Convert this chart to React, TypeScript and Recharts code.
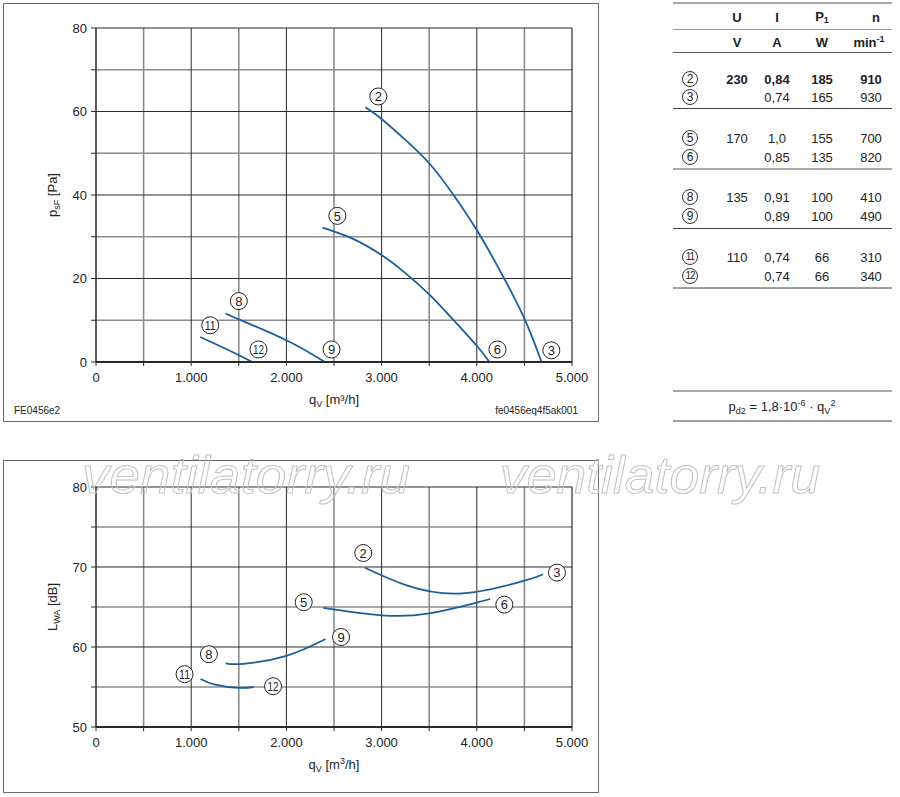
import React from 'react';
import { ComposedChart, Line, Scatter, XAxis, YAxis, ReferenceLine, Label } from 'recharts';

const FONT = '"Liberation Sans", Arial, Helvetica, sans-serif';
const CURVE = '#1b5e9b';
const DARK = '#2a2a2a';
const GRAY = '#8c8c8c';

// ---------- data: pressure chart ----------
const pressureCurve2to3 = [
  { x: 2830, y: 61.0 }, { x: 3000, y: 58.2 }, { x: 3250, y: 53.2 }, { x: 3500, y: 47.6 },
  { x: 3750, y: 40.2 }, { x: 4000, y: 31.6 }, { x: 4250, y: 21.6 }, { x: 4500, y: 10.4 }, { x: 4680, y: 0 },
];
const pressureCurve5to6 = [
  { x: 2380, y: 32.2 }, { x: 2700, y: 29.5 }, { x: 3000, y: 25.6 }, { x: 3250, y: 21.3 },
  { x: 3500, y: 16.2 }, { x: 3750, y: 10.2 }, { x: 4000, y: 3.9 }, { x: 4133, y: 0 },
];
const pressureCurve8to9 = [
  { x: 1361, y: 11.6 }, { x: 1500, y: 10.2 }, { x: 2000, y: 5.2 }, { x: 2403, y: 0 },
];
const pressureCurve11to12 = [
  { x: 1095, y: 6.0 }, { x: 1368, y: 3.1 }, { x: 1642, y: 0 },
];
const pressureMarks = [
  { x: 2965, y: 63.6, label: '2' }, { x: 4783, y: 2.8, label: '3' },
  { x: 2535, y: 35.0, label: '5' }, { x: 4217, y: 3.0, label: '6' },
  { x: 1500, y: 14.6, label: '8' }, { x: 2474, y: 3.0, label: '9' },
  { x: 1200, y: 8.8, label: '11' }, { x: 1707, y: 3.0, label: '12' },
];

// ---------- data: sound chart ----------
const soundCurve2to3 = [
  { x: 2825, y: 69.9 }, { x: 3263, y: 67.7 }, { x: 3850, y: 66.7 }, { x: 4500, y: 68.3 }, { x: 4696, y: 69.1 },
];
const soundCurve5to6 = [
  { x: 2388, y: 64.9 }, { x: 3000, y: 63.96 }, { x: 3500, y: 64.2 }, { x: 4000, y: 65.55 }, { x: 4140, y: 66.0 },
];
const soundCurve8to9 = [
  { x: 1361, y: 57.96 }, { x: 1550, y: 57.9 }, { x: 2000, y: 58.9 }, { x: 2411, y: 61.0 },
];
const soundCurve11to12 = [
  { x: 1098, y: 56.0 }, { x: 1250, y: 55.3 }, { x: 1500, y: 54.9 }, { x: 1656, y: 55.0 },
];
const soundMarks = [
  { x: 2807, y: 71.75, label: '2' }, { x: 4842, y: 69.3, label: '3' },
  { x: 2182, y: 65.6, label: '5' }, { x: 4289, y: 65.3, label: '6' },
  { x: 1186, y: 59.1, label: '8' }, { x: 2574, y: 61.25, label: '9' },
  { x: 930, y: 56.6, label: '11' }, { x: 1860, y: 55.1, label: '12' },
];

// ---------- axes ----------
const xTicks = [0, 500, 1000, 1500, 2000, 2500, 3000, 3500, 4000, 4500, 5000];
const xMajor = [1000, 2000, 3000, 4000];
const xMinor = [500, 1500, 2500, 3500, 4500];
const pressureTicks = [0, 10, 20, 30, 40, 50, 60, 70, 80];
const pressureMajor = [20, 40, 60];
const pressureMinor = [10, 30, 50, 70];
const soundTicks = [50, 55, 60, 65, 70, 75, 80];
const soundMajor = [60, 70];
const soundMinor = [55, 65, 75];

// ---------- table ----------
const tableRows = [
  { id: '2', U: '230', I: '0,84', P: '185', n: '910', bold: true, y: 79 },
  { id: '3', U: '', I: '0,74', P: '165', n: '930', bold: false, y: 97 },
  { id: '5', U: '170', I: '1,0', P: '155', n: '700', bold: false, y: 138 },
  { id: '6', U: '', I: '0,85', P: '135', n: '820', bold: false, y: 157 },
  { id: '8', U: '135', I: '0,91', P: '100', n: '410', bold: false, y: 197 },
  { id: '9', U: '', I: '0,89', P: '100', n: '490', bold: false, y: 216 },
  { id: '11', U: '110', I: '0,74', P: '66', n: '310', bold: false, y: 257 },
  { id: '12', U: '', I: '0,74', P: '66', n: '340', bold: false, y: 276 },
];
const tableLines = [
  { y: 3, color: '#a8a8a8', w: 2 },
  { y: 29, color: '#9a9a9a', w: 1 },
  { y: 52, color: '#555', w: 1 },
  { y: 108, color: '#444', w: 1 },
  { y: 169, color: '#aaaaaa', w: 2 },
  { y: 228, color: '#444', w: 1 },
  { y: 288, color: '#a0a0a0', w: 1.5 },
  { y: 391, color: '#a8a8a8', w: 1.5 },
  { y: 421, color: '#a0a0a0', w: 1.5 },
];

const fmtX = (v: number) => (v % 1000 !== 0 ? '' : v === 0 ? '0' : `${v / 1000}.000`);

const CircleMark = (props: any) => {
  const { cx, cy, payload } = props;
  if (cx == null || cy == null) return null;
  const two = String(payload.label).length > 1;
  return (
    <g>
      <circle cx={cx} cy={cy} r={8.5} fill="#fff" stroke="#222" strokeWidth={1} />
      <text
        x={cx}
        y={cy}
        dy="0.36em"
        textAnchor="middle"
        fontSize={two ? 12 : 13}
        fontFamily={FONT}
        fill="#222"
        textLength={two ? 11 : undefined}
        lengthAdjust={two ? 'spacingAndGlyphs' : undefined}
      >
        {payload.label}
      </text>
    </g>
  );
};

const gridLines = (xs: number[], ys: number[], color: string, width: number, prefix: string) => [
  ...xs.map((v) => <ReferenceLine key={`${prefix}x${v}`} x={v} stroke={color} strokeWidth={width} />),
  ...ys.map((v) => <ReferenceLine key={`${prefix}y${v}`} y={v} stroke={color} strokeWidth={width} />),
];

const XLabel = ({ viewBox, sup }: any) => {
  const cx = viewBox.x + viewBox.width / 2;
  const y = viewBox.y + 42;
  return (
    <text x={cx} y={y} textAnchor="middle" fontSize={13} fontFamily={FONT} fill="#222">
      q<tspan dy={3} fontSize={9}>V</tspan>
      <tspan dy={-3}> [m</tspan>
      {sup ? (
        <>
          <tspan dy={-5} fontSize={9}>3</tspan>
          <tspan dy={5}>/h]</tspan>
        </>
      ) : (
        <tspan>³/h]</tspan>
      )}
    </text>
  );
};

const YLabel = ({ viewBox, main, sub, rest }: any) => {
  const cx = 57;
  const cy = viewBox.y + viewBox.height / 2;
  return (
    <text
      x={cx}
      y={cy}
      textAnchor="middle"
      fontSize={13}
      fontFamily={FONT}
      fill="#222"
      transform={`rotate(-90, ${cx}, ${cy})`}
    >
      {main}
      <tspan dy={3} fontSize={9}>{sub}</tspan>
      <tspan dy={-3}>{rest}</tspan>
    </text>
  );
};

const lineProps = {
  type: 'natural' as const,
  dataKey: 'y',
  stroke: CURVE,
  strokeWidth: 1.8,
  dot: false,
  activeDot: false,
  isAnimationActive: false,
  legendType: 'none' as const,
};

const tickStyle = { fontSize: 13, fontFamily: FONT, fill: '#222' };

const PressureChart = () => (
  <ComposedChart width={600} height={425} margin={{ top: 28, right: 28, bottom: 33, left: 46 }}>
    <XAxis
      type="number"
      dataKey="x"
      domain={[0, 5000]}
      ticks={xTicks}
      tickFormatter={fmtX}
      interval={0}
      allowDataOverflow
      height={30}
      tickSize={4}
      tickMargin={7}
      tick={tickStyle}
      axisLine={{ stroke: DARK, strokeWidth: 2 }}
      tickLine={{ stroke: DARK }}
    >
      <Label content={(p: any) => <XLabel {...p} sup={false} />} />
    </XAxis>
    <YAxis
      type="number"
      domain={[0, 80]}
      ticks={pressureTicks}
      tickFormatter={(v: number) => (v % 20 === 0 ? String(v) : '')}
      interval={0}
      allowDataOverflow
      width={50}
      tickSize={5}
      tickMargin={4}
      tick={tickStyle}
      axisLine={{ stroke: DARK, strokeWidth: 1.5 }}
      tickLine={{ stroke: DARK }}
    >
      <Label content={(p: any) => <YLabel {...p} main="p" sub="sF" rest=" [Pa]" />} />
    </YAxis>
    {gridLines(xMinor, pressureMinor, GRAY, 1.6, 'pm')}
    {gridLines(xMajor, pressureMajor, DARK, 1, 'pM')}
    <ReferenceLine y={80} stroke={DARK} strokeWidth={1.2} />
    <ReferenceLine x={5000} stroke={DARK} strokeWidth={1.2} />
    <Line {...lineProps} data={pressureCurve2to3} />
    <Line {...lineProps} data={pressureCurve5to6} />
    <Line {...lineProps} data={pressureCurve8to9} />
    <Line {...lineProps} data={pressureCurve11to12} />
    <Scatter data={pressureMarks} dataKey="y" shape={CircleMark} isAnimationActive={false} legendType="none" />
  </ComposedChart>
);

const SoundChart = () => (
  <ComposedChart width={600} height={357} margin={{ top: 47, right: 28, bottom: 40, left: 46 }}>
    <XAxis
      type="number"
      dataKey="x"
      domain={[0, 5000]}
      ticks={xTicks}
      tickFormatter={fmtX}
      interval={0}
      allowDataOverflow
      height={30}
      tickSize={4}
      tickMargin={7}
      tick={tickStyle}
      axisLine={{ stroke: DARK, strokeWidth: 2 }}
      tickLine={{ stroke: DARK }}
    >
      <Label content={(p: any) => <XLabel {...p} sup={true} />} />
    </XAxis>
    <YAxis
      type="number"
      domain={[50, 80]}
      ticks={soundTicks}
      tickFormatter={(v: number) => (v % 10 === 0 ? String(v) : '')}
      interval={0}
      allowDataOverflow
      width={50}
      tickSize={5}
      tickMargin={4}
      tick={tickStyle}
      axisLine={{ stroke: DARK, strokeWidth: 1.5 }}
      tickLine={{ stroke: DARK }}
    >
      <Label content={(p: any) => <YLabel {...p} main="L" sub="WA" rest=" [dB]" />} />
    </YAxis>
    {gridLines(xMinor, soundMinor, GRAY, 1.6, 'sm')}
    {gridLines(xMajor, soundMajor, DARK, 1, 'sM')}
    <ReferenceLine y={80} stroke={DARK} strokeWidth={1.2} />
    <ReferenceLine x={5000} stroke={DARK} strokeWidth={1.2} />
    <Line {...lineProps} data={soundCurve2to3} />
    <Line {...lineProps} data={soundCurve5to6} />
    <Line {...lineProps} data={soundCurve8to9} />
    <Line {...lineProps} data={soundCurve11to12} />
    <Scatter data={soundMarks} dataKey="y" shape={CircleMark} isAnimationActive={false} legendType="none" />
  </ComposedChart>
);

const abs = (x: number, y: number, extra: React.CSSProperties = {}): React.CSSProperties => ({
  position: 'absolute',
  left: x,
  top: y,
  transform: 'translate(-50%, -50%)',
  whiteSpace: 'nowrap',
  ...extra,
});

const CircNum = ({ x, y, label }: { x: number; y: number; label: string }) => (
  <div
    style={abs(x, y, {
      width: 14,
      height: 14,
      border: '1px solid #333',
      borderRadius: '50%',
      fontSize: label.length > 1 ? 10 : 12,
      lineHeight: '14px',
      textAlign: 'center',
      letterSpacing: label.length > 1 ? -1 : 0,
      color: '#222',
      background: '#fff',
    })}
  >
    {label}
  </div>
);

const colX = { id: 690, U: 737, I: 777, P: 822, n: 871 };

const Table = () => (
  <>
    {tableLines.map((l, i) => (
      <div
        key={i}
        style={{ position: 'absolute', left: 673, top: l.y - l.w / 2, width: 219, height: l.w, background: l.color }}
      />
    ))}
    <div style={abs(colX.U, 17, { fontWeight: 'bold' })}>U</div>
    <div style={abs(colX.I, 17, { fontWeight: 'bold' })}>I</div>
    <div style={abs(colX.P, 17, { fontWeight: 'bold' })}>
      P<sub style={{ fontSize: 9, verticalAlign: -2 }}>1</sub>
    </div>
    <div style={abs(876, 17, { fontWeight: 'bold' })}>n</div>
    <div style={abs(colX.U, 42, { fontWeight: 'bold' })}>V</div>
    <div style={abs(colX.I, 42, { fontWeight: 'bold' })}>A</div>
    <div style={abs(colX.P, 42, { fontWeight: 'bold' })}>W</div>
    <div style={abs(869, 42, { fontWeight: 'bold' })}>
      min<sup style={{ fontSize: 9, verticalAlign: 5 }}>-1</sup>
    </div>
    {tableRows.map((r) => (
      <React.Fragment key={r.id}>
        <CircNum x={colX.id} y={r.y} label={r.id} />
        {r.U && <div style={abs(colX.U, r.y, { fontWeight: r.bold ? 'bold' : 'normal' })}>{r.U}</div>}
        <div style={abs(colX.I, r.y, { fontWeight: r.bold ? 'bold' : 'normal' })}>{r.I}</div>
        <div style={abs(colX.P, r.y, { fontWeight: r.bold ? 'bold' : 'normal' })}>{r.P}</div>
        <div style={abs(colX.n, r.y, { fontWeight: r.bold ? 'bold' : 'normal' })}>{r.n}</div>
      </React.Fragment>
    ))}
    <div style={abs(782, 407)}>
      p<sub style={{ fontSize: 9, verticalAlign: -3 }}>d2</sub> = 1,8·10
      <sup style={{ fontSize: 9, verticalAlign: 5 }}>-6</sup> · q
      <sub style={{ fontSize: 9, verticalAlign: -3 }}>V</sub>
      <sup style={{ fontSize: 9, verticalAlign: 5 }}>2</sup>
    </div>
  </>
);

export default function App() {
  return (
    <div
      style={{
        position: 'absolute',
        left: 0,
        top: 0,
        width: 900,
        height: 797,
        background: '#fff',
        fontFamily: FONT,
        fontSize: 13,
        color: '#222',
        overflow: 'hidden',
      }}
    >
      <div style={{ position: 'absolute', left: 3, top: 3, width: 594, height: 417, border: '1px solid #6a6a6a' }} />
      <div style={{ position: 'absolute', left: 3, top: 460, width: 594, height: 331, border: '1px solid #6a6a6a' }} />
      <div style={{ position: 'absolute', left: 0, top: 0 }}>
        <PressureChart />
      </div>
      <div style={{ position: 'absolute', left: 0, top: 440 }}>
        <SoundChart />
      </div>
      <div style={{ position: 'absolute', left: 14, top: 405, fontSize: 10 }}>FE0456e2</div>
      <div style={{ position: 'absolute', right: 900 - 578, top: 405, fontSize: 10 }}>fe0456eq4f5ak001</div>
      <Table />
      <svg width={900} height={797} style={{ position: 'absolute', left: 0, top: 0, pointerEvents: 'none' }}>
        <text
          x={82}
          y={493}
          fontSize={52}
          fontStyle="italic"
          fontFamily={FONT}
          fill="none"
          stroke="#c2c2c2"
          strokeWidth={1}
          textLength={328}
          lengthAdjust="spacingAndGlyphs"
        >
          ventilatorry.ru
        </text>
        <text
          x={500}
          y={493}
          fontSize={52}
          fontStyle="italic"
          fontFamily={FONT}
          fill="none"
          stroke="#c2c2c2"
          strokeWidth={1}
          textLength={320}
          lengthAdjust="spacingAndGlyphs"
        >
          ventilatorry.ru
        </text>
      </svg>
    </div>
  );
}
